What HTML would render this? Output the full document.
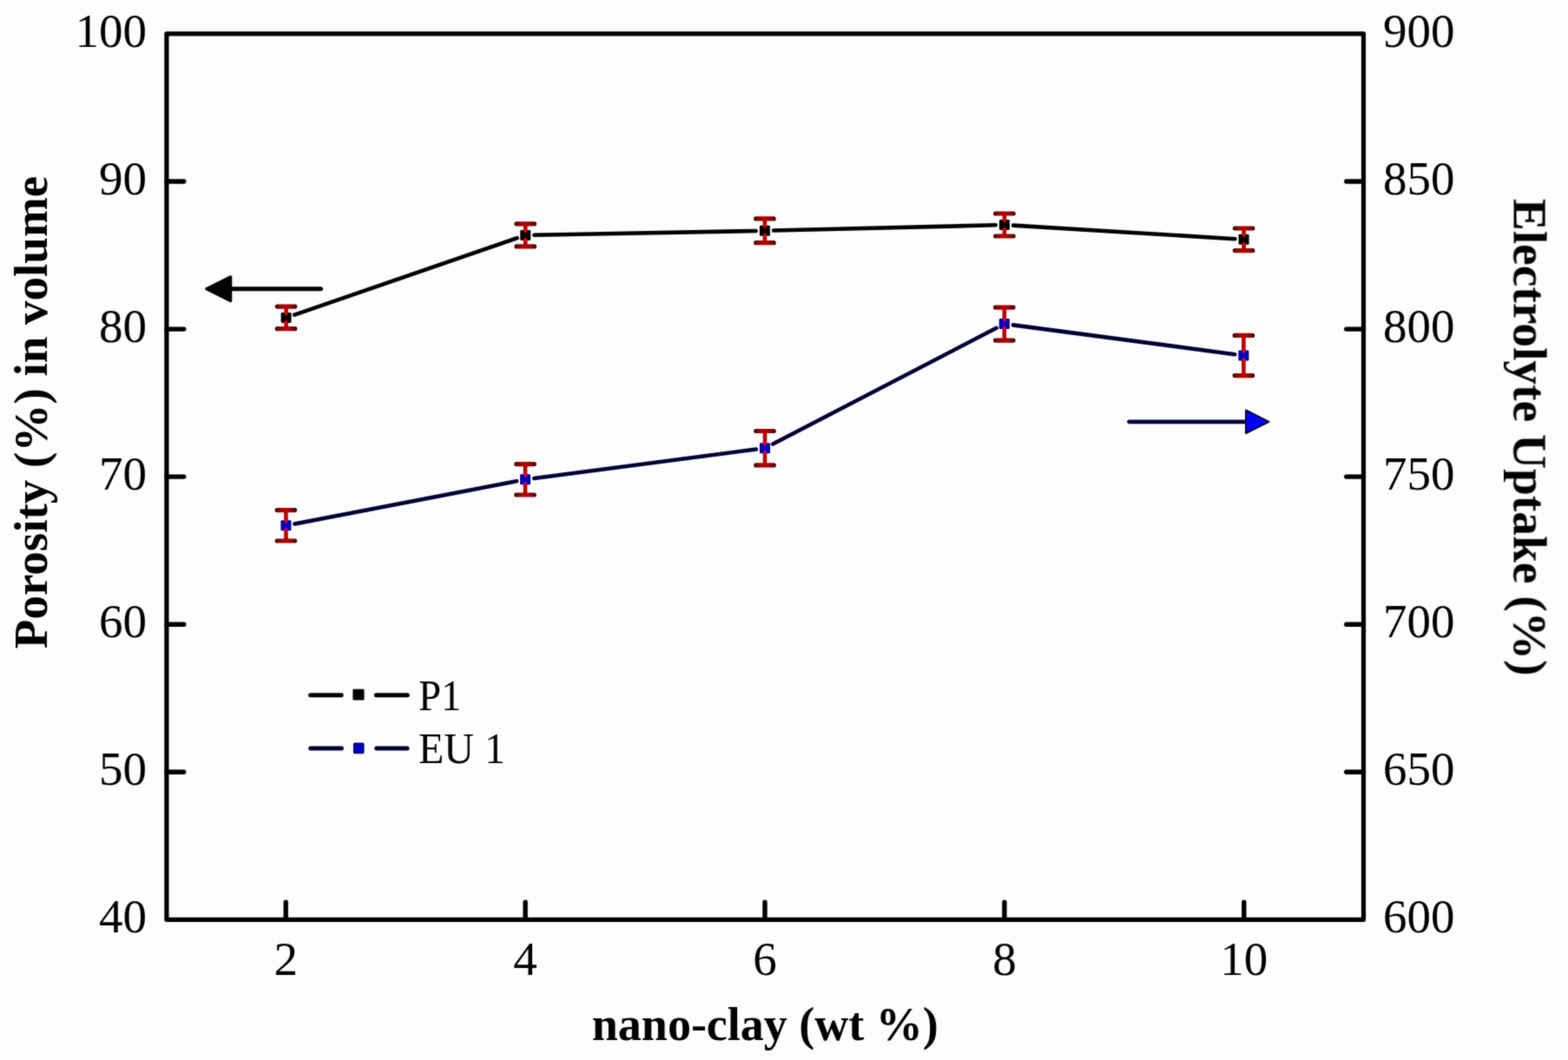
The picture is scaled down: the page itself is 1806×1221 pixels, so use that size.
<!DOCTYPE html>
<html><head><meta charset="utf-8"><title>Porosity and Electrolyte Uptake vs nano-clay</title>
<style>html,body{margin:0;padding:0;background:#fdfdfd;width:1806px;height:1221px;overflow:hidden}svg{display:block}</style>
</head><body>
<svg width="1806" height="1221" viewBox="0 0 1806 1221">
<defs><linearGradient id="capg" x1="0" x2="1" y1="0" y2="0"><stop offset="0" stop-color="#200000"/><stop offset="0.14" stop-color="#780000"/><stop offset="0.35" stop-color="#a80000"/><stop offset="0.5" stop-color="#b80000"/><stop offset="0.65" stop-color="#a80000"/><stop offset="0.86" stop-color="#780000"/><stop offset="1" stop-color="#200000"/></linearGradient></defs>
<filter id="bl" x="0" y="0" width="1806" height="1221" filterUnits="userSpaceOnUse"><feConvolveMatrix order="3" kernelMatrix="0.02250 0.10500 0.02250 0.10500 0.49000 0.10500 0.02250 0.10500 0.02250" edgeMode="duplicate" preserveAlpha="false"/></filter>
<rect width="100%" height="100%" fill="#fdfdfd"/>
<g filter="url(#bl)">
<rect x="191.9" y="38.9" width="1378.6" height="1020.4" fill="none" stroke="#000" stroke-width="5.2" stroke-linejoin="round"/>
<path d="M192 889.2h19.8 M1570.5 889.2h-19.8 M192 719.2h19.8 M1570.5 719.2h-19.8 M192 549.1h19.8 M1570.5 549.1h-19.8 M192 379.1h19.8 M1570.5 379.1h-19.8 M192 209.0h19.8 M1570.5 209.0h-19.8 M329.2 1059.3v-20 M605.1 1059.3v-20 M881.0 1059.3v-20 M1156.9 1059.3v-20 M1432.8 1059.3v-20" stroke="#000" stroke-width="5.4" stroke-linecap="round" fill="none"/>
<g font-family="Liberation Serif, serif" font-size="55" fill="#000">
<text x="169" y="1073.8" text-anchor="end">40</text>
<text x="169" y="903.8" text-anchor="end">50</text>
<text x="169" y="733.7" text-anchor="end">60</text>
<text x="169" y="563.6" text-anchor="end">70</text>
<text x="169" y="393.6" text-anchor="end">80</text>
<text x="169" y="223.5" text-anchor="end">90</text>
<text x="169" y="53.5" text-anchor="end">100</text>
<text x="1593" y="1073.8">600</text>
<text x="1593" y="903.8">650</text>
<text x="1593" y="733.7">700</text>
<text x="1593" y="563.6">750</text>
<text x="1593" y="393.6">800</text>
<text x="1593" y="223.5">850</text>
<text x="1593" y="53.5">900</text>
<text x="329.2" y="1123" text-anchor="middle">2</text>
<text x="605.1" y="1123" text-anchor="middle">4</text>
<text x="881.0" y="1123" text-anchor="middle">6</text>
<text x="1156.9" y="1123" text-anchor="middle">8</text>
<text x="1432.8" y="1123" text-anchor="middle">10</text>
</g>
<g font-family="Liberation Serif, serif" font-size="55" font-weight="bold" fill="#000">
<text x="881.3" y="1197.5" text-anchor="middle" font-size="54">nano-clay (wt %)</text>
<text transform="translate(54,475) rotate(-90)" text-anchor="middle">Porosity (%) in volume</text>
<text transform="translate(1743.6,228.8) rotate(90)" font-size="55.4">Electrolyte Uptake (%)</text>
</g>
<path d="M339.2 362.6L595.6 274.2M615.4 270.7L870.7 266.0M891.1 265.5L1146.7 259.3M1167.1 259.6L1422.4 275.2" stroke="#000" stroke-width="4.6" stroke-linecap="round" fill="none"/><path d="M329.6 353.1V363.4M329.6 378.7V368.4" stroke="#b80000" stroke-width="4.6" fill="none"/><rect x="316.8" y="350.5" width="25.6" height="5.2" rx="2.6" fill="url(#capg)"/><rect x="316.8" y="376.1" width="25.6" height="5.2" rx="2.6" fill="url(#capg)"/><path d="M605.2 257.9V268.4M605.2 283.9V273.4" stroke="#b80000" stroke-width="4.6" fill="none"/><rect x="592.4" y="255.3" width="25.6" height="5.2" rx="2.6" fill="url(#capg)"/><rect x="592.4" y="281.3" width="25.6" height="5.2" rx="2.6" fill="url(#capg)"/><path d="M880.9 251.9V263.3M880.9 279.7V268.3" stroke="#b80000" stroke-width="4.6" fill="none"/><rect x="868.1" y="249.3" width="25.6" height="5.2" rx="2.6" fill="url(#capg)"/><rect x="868.1" y="277.1" width="25.6" height="5.2" rx="2.6" fill="url(#capg)"/><path d="M1156.9 246.0V256.5M1156.9 272.0V261.5" stroke="#b80000" stroke-width="4.6" fill="none"/><rect x="1144.1" y="243.4" width="25.6" height="5.2" rx="2.6" fill="url(#capg)"/><rect x="1144.1" y="269.4" width="25.6" height="5.2" rx="2.6" fill="url(#capg)"/><path d="M1432.6 263.0V273.3M1432.6 288.6V278.3" stroke="#b80000" stroke-width="4.6" fill="none"/><rect x="1419.8" y="260.4" width="25.6" height="5.2" rx="2.6" fill="url(#capg)"/><rect x="1419.8" y="286.0" width="25.6" height="5.2" rx="2.6" fill="url(#capg)"/><rect x="324.3" y="360.6" width="10.6" height="10.6" rx="0.6" fill="#000" stroke="#000" stroke-width="1.4"/><path d="M329.6 359.7L327.3 359.7L329.6 363.4L331.9 359.7ZM329.6 372.1L327.3 372.1L329.6 368.4L331.9 372.1Z" fill="#ff0000"/><rect x="599.9" y="265.6" width="10.6" height="10.6" rx="0.6" fill="#000" stroke="#000" stroke-width="1.4"/><path d="M605.2 264.7L602.9 264.7L605.2 268.4L607.5 264.7ZM605.2 277.1L602.9 277.1L605.2 273.4L607.5 277.1Z" fill="#ff0000"/><rect x="875.6" y="260.5" width="10.6" height="10.6" rx="0.6" fill="#000" stroke="#000" stroke-width="1.4"/><path d="M880.9 259.6L878.6 259.6L880.9 263.3L883.2 259.6ZM880.9 272.0L878.6 272.0L880.9 268.3L883.2 272.0Z" fill="#ff0000"/><rect x="1151.6" y="253.7" width="10.6" height="10.6" rx="0.6" fill="#000" stroke="#000" stroke-width="1.4"/><path d="M1156.9 252.8L1154.6 252.8L1156.9 256.5L1159.2 252.8ZM1156.9 265.2L1154.6 265.2L1156.9 261.5L1159.2 265.2Z" fill="#ff0000"/><rect x="1427.3" y="270.5" width="10.6" height="10.6" rx="0.6" fill="#000" stroke="#000" stroke-width="1.4"/><path d="M1432.6 269.6L1430.3 269.6L1432.6 273.3L1434.9 269.6ZM1432.6 282.0L1430.3 282.0L1432.6 278.3L1434.9 282.0Z" fill="#ff0000"/>
<path d="M339.4 603.4L595.0 554.2M615.1 551.0L870.9 517.5M890.1 511.5L1147.7 377.8M1166.9 374.4L1422.3 408.2" stroke="#050535" stroke-width="4.6" stroke-linecap="round" fill="none"/><path d="M329.4 587.6V602.8M329.4 623.0V607.8" stroke="#b80000" stroke-width="4.6" fill="none"/><rect x="316.6" y="585.0" width="25.6" height="5.2" rx="2.6" fill="url(#capg)"/><rect x="316.6" y="620.4" width="25.6" height="5.2" rx="2.6" fill="url(#capg)"/><path d="M605.0 534.6V549.8M605.0 570.0V554.8" stroke="#b80000" stroke-width="4.6" fill="none"/><rect x="592.2" y="532.0" width="25.6" height="5.2" rx="2.6" fill="url(#capg)"/><rect x="592.2" y="567.4" width="25.6" height="5.2" rx="2.6" fill="url(#capg)"/><path d="M881.0 496.5V513.7M881.0 535.9V518.7" stroke="#b80000" stroke-width="4.6" fill="none"/><rect x="868.2" y="493.9" width="25.6" height="5.2" rx="2.6" fill="url(#capg)"/><rect x="868.2" y="533.3" width="25.6" height="5.2" rx="2.6" fill="url(#capg)"/><path d="M1156.8 354.1V370.6M1156.8 392.1V375.6" stroke="#b80000" stroke-width="4.6" fill="none"/><rect x="1144.0" y="351.5" width="25.6" height="5.2" rx="2.6" fill="url(#capg)"/><rect x="1144.0" y="389.5" width="25.6" height="5.2" rx="2.6" fill="url(#capg)"/><path d="M1432.4 386.4V407.0M1432.4 432.6V412.0" stroke="#b80000" stroke-width="4.6" fill="none"/><rect x="1419.6" y="383.8" width="25.6" height="5.2" rx="2.6" fill="url(#capg)"/><rect x="1419.6" y="430.0" width="25.6" height="5.2" rx="2.6" fill="url(#capg)"/><rect x="324.1" y="600.0" width="10.6" height="10.6" rx="0.6" fill="#0000c4" stroke="#000078" stroke-width="1.4"/><path d="M329.4 599.1L327.1 599.1L329.4 602.8L331.7 599.1ZM329.4 611.5L327.1 611.5L329.4 607.8L331.7 611.5Z" fill="#ff0000"/><rect x="599.7" y="547.0" width="10.6" height="10.6" rx="0.6" fill="#0000c4" stroke="#000078" stroke-width="1.4"/><path d="M605.0 546.1L602.7 546.1L605.0 549.8L607.3 546.1ZM605.0 558.5L602.7 558.5L605.0 554.8L607.3 558.5Z" fill="#ff0000"/><rect x="875.7" y="510.9" width="10.6" height="10.6" rx="0.6" fill="#0000c4" stroke="#000078" stroke-width="1.4"/><path d="M881.0 510.0L878.7 510.0L881.0 513.7L883.3 510.0ZM881.0 522.4L878.7 522.4L881.0 518.7L883.3 522.4Z" fill="#ff0000"/><rect x="1151.5" y="367.8" width="10.6" height="10.6" rx="0.6" fill="#0000c4" stroke="#000078" stroke-width="1.4"/><path d="M1156.8 366.9L1154.5 366.9L1156.8 370.6L1159.1 366.9ZM1156.8 379.3L1154.5 379.3L1156.8 375.6L1159.1 379.3Z" fill="#ff0000"/><rect x="1427.1" y="404.2" width="10.6" height="10.6" rx="0.6" fill="#0000c4" stroke="#000078" stroke-width="1.4"/><path d="M1432.4 403.3L1430.1 403.3L1432.4 407.0L1434.7 403.3ZM1432.4 415.7L1430.1 415.7L1432.4 412.0L1434.7 415.7Z" fill="#ff0000"/>
<path d="M369.5 332.8H262" stroke="#000" stroke-width="5" stroke-linecap="round"/>
<path d="M238 332.7L265.5 319V346.5Z" fill="#000" stroke="#000" stroke-width="3.5" stroke-linejoin="round"/>
<path d="M1300.5 485.8H1436" stroke="#050535" stroke-width="4.8" stroke-linecap="round"/>
<path d="M1461.5 485.8L1435 472.5V499Z" fill="#0000ff" stroke="#000033" stroke-width="2" stroke-linejoin="round"/>
<path d="M357.6 800.7H393.2M433.3 800.7H469.3" stroke="#000" stroke-width="5.0" stroke-linecap="round"/>
<rect x="406.4" y="793.8" width="13.1" height="12.8" rx="1" fill="#000"/>
<path d="M357.7 862.1H393.4M433.7 862.1H469" stroke="#050535" stroke-width="5.0" stroke-linecap="round"/>
<rect x="407.7" y="856.4" width="11" height="11" rx="0.8" fill="#0000c4" stroke="#000070" stroke-width="1.6"/>
<g font-family="Liberation Serif, serif" font-size="55" fill="#000">
<text x="482" y="817.5" font-size="51.5" textLength="49.5" lengthAdjust="spacingAndGlyphs">P1</text>
<text x="482" y="878.5" font-size="51.5" textLength="100" lengthAdjust="spacingAndGlyphs">EU 1</text>
</g>
</g>
</svg>
</body></html>
